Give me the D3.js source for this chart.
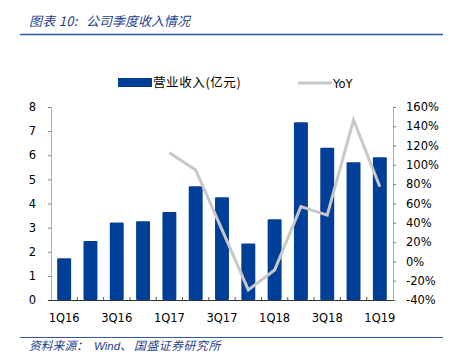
<!DOCTYPE html>
<html><head><meta charset="utf-8">
<script src="https://cdn.jsdelivr.net/npm/d3@7/dist/d3.min.js"></script>
<style>body{margin:0;background:#fff;}svg{display:block;}</style>
</head><body>
<svg id="c" width="454" height="355"></svg>
<script>
const categories = ["1Q16","2Q16","3Q16","4Q16","1Q17","2Q17","3Q17","4Q17","1Q18","2Q18","3Q18","4Q18","1Q19"];
const revenue = [1.73,2.45,3.21,3.26,3.65,4.72,4.26,2.34,3.35,7.37,6.31,5.71,5.92];
const yoy = [null,null,null,null,112.6,94.7,33,-29.6,-8.9,56.7,48,146.5,77.4];
const leftTicks = [0,1,2,3,4,5,6,7,8];
const rightTicks = [-40,-20,0,20,40,60,80,100,120,140,160];
const xLabels = ["1Q16","3Q16","1Q17","3Q17","1Q18","3Q18","1Q19"];
const seriesNames = ["营业收入(亿元)","YoY"];
const titleParts = ["图表 10:","公司季度收入情况"];
const sourceParts = ["资料来源：","Wind","、","国盛证券研究所"];

const svg = d3.select("#c");
const L=51, R=393, T=107, B=300;
const font = "'DejaVu Sans', sans-serif";
const cjk = "'Noto Sans CJK SC', sans-serif";
const blue = "#003f98", gray="#c8c8c8", tblue="#1f3f8c";

const x = d3.scaleBand().domain(categories).range([L,R]).paddingInner(0.47).paddingOuter(0.235);
const xb = d3.scaleBand().domain(categories).range([L,R]);
const yL = d3.scaleLinear().domain([0,8]).range([B,T]);
const yR = d3.scaleLinear().domain([-40,160]).range([B,T]);

// header
const tt = svg.append("text").attr("y",25.5).attr("fill",tblue).attr("font-family",cjk)
  .attr("font-style","italic").attr("font-size",13);
tt.append("tspan").attr("x",29).attr("letter-spacing",0.3).text(titleParts[0]);
tt.append("tspan").attr("x",86).attr("letter-spacing",0).text(titleParts[1]);
svg.append("line").attr("x1",20).attr("x2",443).attr("y1",34.5).attr("y2",34.5).attr("stroke","#2a5caa").attr("stroke-width",1.5);
// footer
svg.append("line").attr("x1",20).attr("x2",443).attr("y1",337.5).attr("y2",337.5).attr("stroke","#2a5caa").attr("stroke-width",1.2);
const st = svg.append("text").attr("y",350).attr("fill",tblue).attr("font-family",cjk)
  .attr("font-style","italic").attr("font-size",11.8);
st.append("tspan").attr("x",29).text(sourceParts[0]);
st.append("tspan").attr("x",94).attr("font-family","'Liberation Sans', sans-serif").attr("font-size",11.5).text(sourceParts[1]);
st.append("tspan").attr("x",120).text(sourceParts[2]);
st.append("tspan").attr("x",134).attr("letter-spacing",0.6).text(sourceParts[3]);

// bars
svg.append("g").selectAll("rect").data(categories).join("rect")
  .attr("x",d=>x(d)).attr("width",x.bandwidth())
  .attr("y",(d,i)=>yL(revenue[i])).attr("height",(d,i)=>B-yL(revenue[i]))
  .attr("fill",blue).attr("rx",1);

// left axis
const gl = svg.append("g").attr("transform",`translate(${L},0)`)
  .call(d3.axisLeft(yL).tickValues(leftTicks).tickSize(3).tickPadding(12).tickFormat(d3.format("d")));
gl.select(".domain").attr("stroke","#b0b0b0");
gl.selectAll(".tick line").attr("stroke","#808080");
gl.selectAll("text").attr("font-family",font).attr("font-size",11.5).attr("fill","#000");

// right axis
const gr = svg.append("g").attr("transform",`translate(${R},0)`)
  .call(d3.axisRight(yR).tickValues(rightTicks).tickSize(3).tickPadding(10).tickFormat(d=>d+"%"));
gr.select(".domain").attr("stroke","#b0b0b0");
gr.selectAll(".tick line").attr("stroke","#808080");
gr.selectAll("text").attr("font-family",font).attr("font-size",11.5).attr("fill","#000");

// x axis
const gx = svg.append("g").attr("transform",`translate(0,${B})`);
gx.append("line").attr("x1",L-3).attr("x2",R).attr("y1",0.5).attr("y2",0.5).attr("stroke","#333");
gx.selectAll("line.t").data(categories.slice(1)).join("line").attr("class","t")
  .attr("x1",d=>xb(d)).attr("x2",d=>xb(d)).attr("y1",-3).attr("y2",0).attr("stroke","#555");
gx.selectAll("text").data(xLabels).join("text")
  .attr("x",d=>xb(d)+xb.bandwidth()/2).attr("y",22).attr("text-anchor","middle")
  .attr("font-family",font).attr("font-size",11.5).attr("fill","#000").text(d=>d);

// YoY line
const line = d3.line().defined(d=>d.v!=null).x(d=>xb(d.c)+xb.bandwidth()/2).y(d=>yR(d.v));
svg.append("path").datum(categories.map((c,i)=>({c,v:yoy[i]})))
  .attr("d",line).attr("fill","none").attr("stroke",gray).attr("stroke-width",3).attr("stroke-linejoin","miter");

// legend
svg.append("rect").attr("x",118).attr("y",78).attr("width",34).attr("height",9).attr("fill",blue);
svg.append("text").attr("x",153).attr("y",87).attr("font-family",cjk).attr("font-size",12.5).attr("letter-spacing",0.6).attr("fill","#000").text(seriesNames[0]);
svg.append("line").attr("x1",298).attr("x2",332).attr("y1",83).attr("y2",83).attr("stroke",gray).attr("stroke-width",3);
svg.append("text").attr("x",333).attr("y",87.5).attr("font-family",font).attr("font-size",11.5).attr("fill","#000").text(seriesNames[1]);
</script>
</body></html>
